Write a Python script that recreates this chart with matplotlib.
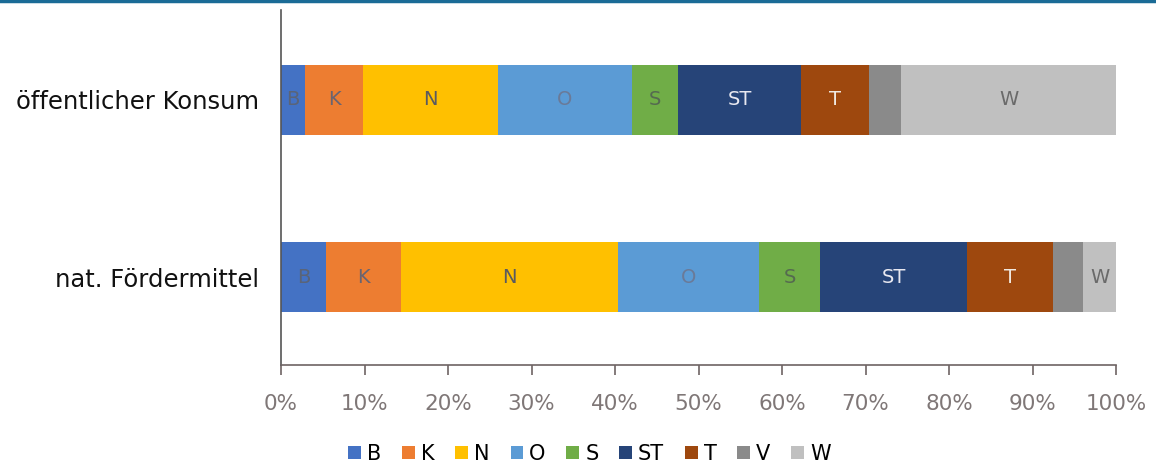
import numpy as np
import matplotlib.pyplot as plt
from matplotlib.lines import Line2D

categories = ['nat. Fördermittel', 'öffentlicher Konsum']
segments = ['B', 'K', 'N', 'O', 'S', 'ST', 'T', 'V', 'W']
# shares in percent, rows follow categories
foerdermittel = [5.4, 9.0, 26.0, 16.9, 7.3, 17.6, 10.3, 3.6, 3.9]
konsum = [2.9, 6.9, 16.2, 16.0, 5.6, 14.7, 8.1, 3.9, 25.7]
bar_labels = ['B', 'K', 'N', 'O', 'S', 'ST', 'T', '', 'W']

colors = ['#4472C4', '#ED7D31', '#FFC000', '#5B9BD5', '#70AD47',
          '#264478', '#9E480E', '#8a8a8a', '#c0c0c0']
label_colors = ['#5a6478', '#6a6470', '#5a5a60', '#6a7a98', '#556a50',
                '#e8e8f0', '#f0e8e0', '#444', '#6a6a6a']

data = np.array([foerdermittel, konsum])
data = data / data.sum(axis=1, keepdims=True) * 100

fig = plt.figure(figsize=(11.56, 4.73), dpi=100)
ax = fig.add_axes([0.2431, 0.2283, 0.7223, 0.7506])

y = np.arange(len(categories))
left = np.zeros(len(categories))
for i, seg in enumerate(segments):
    ax.barh(y, data[:, i], left=left, height=0.4, color=colors[i], label=seg)
    for j in range(len(categories)):
        if bar_labels[i]:
            ax.text(left[j] + data[j, i] / 2, y[j], bar_labels[i],
                    ha='center', va='center', fontsize=14, color=label_colors[i])
    left += data[:, i]

ax.set_xlim(0, 100)
ax.set_ylim(-0.497, 1.508)
ax.set_xticks(np.arange(0, 101, 10))
ax.set_xticklabels([f'{v}%' for v in range(0, 101, 10)])
ax.set_yticks(y)
ax.set_yticklabels(categories, fontsize=17.5, color='#111')
ax.tick_params(axis='x', labelsize=15.5, labelcolor='#7f7777', color='#6e6464',
               length=7, width=1.2, pad=14)
ax.tick_params(axis='y', length=0, pad=16)
for s in ['top', 'right']:
    ax.spines[s].set_visible(False)
ax.spines['bottom'].set_color('#6e6464')
ax.spines['left'].set_color('#555')
ax.spines['bottom'].set_linewidth(1.2)
ax.spines['left'].set_linewidth(1.2)

fig.legend(loc='center', bbox_to_anchor=(0.51, 0.04), ncol=9, frameon=False,
           fontsize=15, handlelength=0.6, handleheight=0.6, handletextpad=0.3,
           columnspacing=1.0)

fig.add_artist(Line2D([0, 1], [0.997, 0.997], color='#1a6b96', lw=2.5))

fig.savefig('out.png')
